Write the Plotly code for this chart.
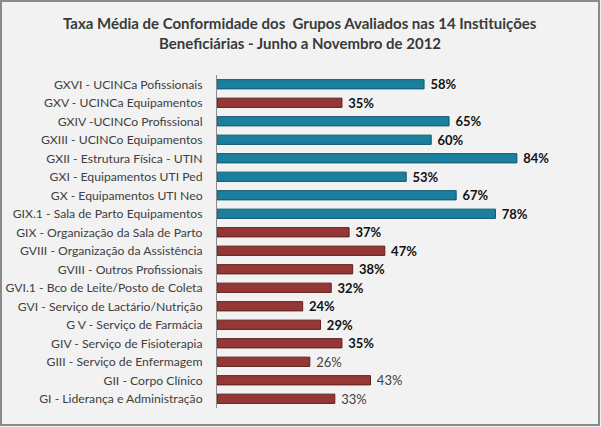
import plotly.graph_objects as go

categories = [
    "GXVI - UCINCa Pofissionais",
    "GXV - UCINCa Equipamentos",
    "GXIV -UCINCo Profissional",
    "GXIII - UCINCo Equipamentos",
    "GXII - Estrutura Física - UTIN",
    "GXI - Equipamentos UTI Ped",
    "GX - Equipamentos UTI Neo",
    "GIX.1 - Sala de Parto Equipamentos",
    "GIX - Organização da Sala de Parto",
    "GVIII - Organização da Assistência",
    "GVIII - Outros Profissionais",
    "GVI.1 - Bco de Leite/Posto de Coleta",
    "GVI - Serviço de Lactário/Nutrição",
    "G V - Serviço de Farmácia",
    "GIV - Serviço de Fisioterapia",
    "GIII - Serviço de Enfermagem",
    "GII - Corpo Clínico",
    "GI - Liderança e Administração",
]
values = [0.58, 0.35, 0.65, 0.60, 0.84, 0.53, 0.67, 0.78, 0.37, 0.47,
          0.38, 0.32, 0.24, 0.29, 0.35, 0.26, 0.43, 0.33]
group = ["b", "r", "b", "b", "b", "b", "b", "b", "r", "r",
         "r", "r", "r", "r", "r", "r", "r", "r"]
bold_label = [True] * 15 + [False] * 3
title_lines = ["Taxa Média de Conformidade dos  Grupos Avaliados nas 14 Instituições",
               "Beneficiárias - Junho a Novembro de 2012"]

TEAL = "#1b7f9e"
RED = "#953735"
colors = [TEAL if g == "b" else RED for g in group]
edge = ["#10566b" if g == "b" else "#5e1f1e" for g in group]

NB = "\u00a0"
texts = [f"{NB}<b>{round(v*100)}%</b>" if b else f"{NB}{round(v*100)}%" for v, b in zip(values, bold_label)]
tcolors = ["#111111" if b else "#404040" for b in bold_label]

W, H = 601, 427
ML, MR, MT, MB = 217, 27, 75, 19
PW, PH = W - ML - MR, H - MT - MB
FONT = "Lato, Calibri, sans-serif"

fig = go.Figure(go.Bar(
    y=categories, x=values, orientation="h",
    marker=dict(color=colors, line=dict(color=edge, width=1)),
    text=texts, textposition="outside", constraintext="none",
    textfont=dict(family=FONT, size=13, color=tcolors),
    cliponaxis=False,
))

fig.update_layout(
    width=W, height=H,
    margin=dict(l=ML, r=MR, t=MT, b=MB, autoexpand=False),
    paper_bgcolor="#f2f2f2", plot_bgcolor="#f2f2f2",
    bargap=0.5,
    showlegend=False,
    xaxis=dict(range=[0, 1], visible=False, fixedrange=True, automargin=False),
    yaxis=dict(
        autorange="reversed", automargin=False,
        tickfont=dict(family=FONT, size=12.2, color="#404040"),
        showline=True, linecolor="#8c8c8c", linewidth=1,
        showgrid=False, ticks="", ticklabelstandoff=11,
    ),
)
for i, line in enumerate(title_lines):
    ypx = 23 + 20 * i
    fig.add_annotation(text=f"<b>{line}</b>", xref="paper", yref="paper",
                       x=(300 - ML) / PW, y=1 + (MT - ypx) / PH,
                       xanchor="center", yanchor="middle", showarrow=False,
                       font=dict(family=FONT, size=15, color="#3a3a3a"))
# outer border of the whole chart
fig.add_shape(type="rect", xref="paper", yref="paper",
              x0=(-ML + 1) / PW, x1=1 + (MR - 2) / PW,
              y0=(-MB + 2) / PH, y1=1 + (MT - 1) / PH,
              line=dict(color="#8a8a8a", width=2))

fig.write_html("out.html")
